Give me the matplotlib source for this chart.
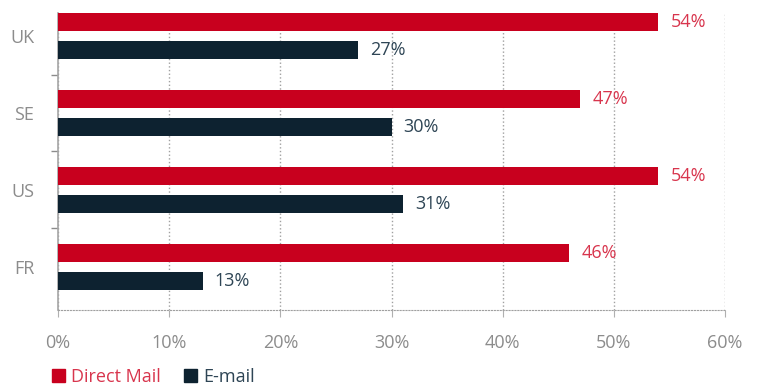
import matplotlib.pyplot as plt
from matplotlib.patches import Patch
import numpy as np

countries = ['UK', 'SE', 'US', 'FR']
direct_mail = [54, 47, 54, 46]
email = [27, 30, 31, 13]
xticks = [0, 10, 20, 30, 40, 50, 60]

red = '#C8001E'
navy = '#0D2230'
red_txt = '#D8354D'
navy_txt = '#2E4555'
gray = '#8C8C8C'

plt.rcParams['font.family'] = ['Open Sans', 'DejaVu Sans']
fs = 13

fig = plt.figure(figsize=(7.57, 3.90), dpi=100)
ax = fig.add_axes([58 / 757, 1 - 310 / 390, (725 - 58) / 757, (310 - 13) / 390])

pos = np.arange(len(countries))[::-1]  # UK at top
off = 0.18
h = 0.234
ax.barh(pos + off, direct_mail, height=h, color=red, zorder=3)
ax.barh(pos - off, email, height=h, color=navy, zorder=3)

for p, v in zip(pos, direct_mail):
    ax.text(v + 1.1, p + off, f'{v}%', va='center', ha='left', color=red_txt, fontsize=fs)
for p, v in zip(pos, email):
    ax.text(v + 1.1, p - off, f'{v}%', va='center', ha='left', color=navy_txt, fontsize=fs)

ax.set_xlim(0, 60)
ax.set_ylim(-0.56, 3.30)
ax.set_xticks(xticks)
ax.set_xticklabels([f'{t}%' for t in xticks], color=gray, fontsize=fs)
ax.set_yticks(pos)
ax.set_yticklabels(countries, color=gray, fontsize=fs)
ax.set_yticks([2.5, 1.5, 0.5], minor=True)
ax.tick_params(axis='y', which='major', length=0, pad=17)
ax.tick_params(axis='y', which='minor', length=5, color=gray, width=1)
ax.tick_params(axis='x', length=5, color='#B0B0B0', width=0.8, pad=12)

ax.grid(axis='x', linestyle=':', color='#A0A0A0', linewidth=1, zorder=0)
for s in ['top', 'right']:
    ax.spines[s].set_visible(False)
ax.spines['left'].set_color('#A6A6A6')
ax.spines['left'].set_linewidth(1.2)
ax.spines['bottom'].set_linestyle(':')
ax.spines['bottom'].set_color('#A0A0A0')

handles = [Patch(color=red, label='Direct Mail'), Patch(color=navy, label='E-mail')]
leg = fig.legend(handles=handles, loc='center left', bbox_to_anchor=(36 / 757, 1 - 377 / 390),
                 ncol=2, frameon=False, fontsize=fs, handlelength=0.7, handleheight=0.7,
                 handletextpad=0.35, columnspacing=1.3)
for t, c in zip(leg.get_texts(), [red_txt, navy_txt]):
    t.set_color(c)

fig.savefig('out.png', dpi=100)
